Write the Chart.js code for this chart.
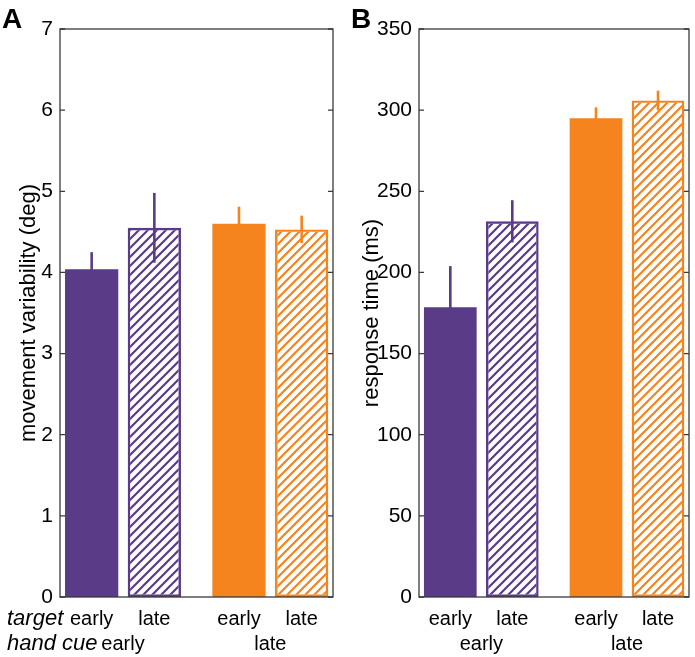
<!DOCTYPE html>
<html>
<head>
<meta charset="utf-8">
<script src="https://cdn.jsdelivr.net/npm/chart.js@4.4.1/dist/chart.umd.min.js"></script>
<style>
  body { margin: 0; background: #fff; width: 695px; height: 657px; position: relative; overflow: hidden; }
  .panel { position: absolute; top: 0; height: 657px; }
  #pa { left: 0; width: 347px; }
  #pb { left: 347px; width: 348px; }
  .tag { position: absolute; top: 5px; font: bold 28px/28px "Liberation Sans", Arial, sans-serif; color: #000; }
</style>
</head>
<body>
<div class="panel" id="pa"><canvas id="ca"></canvas></div>
<div class="panel" id="pb"><canvas id="cb"></canvas></div>
<div class="tag" style="left:2px">A</div>
<div class="tag" style="left:351px">B</div>
<script>
// data
const targetLabels = ['early', 'late', 'early', 'late'];
const handCueLabels = ['early', 'late'];
const barPositions = [1, 2, 3.35, 4.35];
const variability = [4.04, 4.55, 4.60, 4.53];
const variabilityErr = [0.21, 0.43, 0.21, 0.17];
const responseTime = [178.5, 231.5, 295, 306];
const responseTimeErr = [25.4, 13, 6.7, 6];
const variabilityTicks = [0, 1, 2, 3, 4, 5, 6, 7];
const responseTicks = [0, 50, 100, 150, 200, 250, 300, 350];

const FONT = '"Liberation Sans", Arial, Helvetica, sans-serif';
const PURPLE = '#5a3b88';
const ORANGE = '#f5841f';
Chart.defaults.color = '#000';
Chart.defaults.font.family = FONT;

function hatch(color) {
  const s = 9, c = document.createElement('canvas');
  c.width = s; c.height = s;
  const g = c.getContext('2d');
  g.strokeStyle = color; g.lineWidth = 2.2;
  g.beginPath();
  g.moveTo(-2, s + 2); g.lineTo(s + 2, -2);
  g.moveTo(-2, 2); g.lineTo(2, -2);
  g.moveTo(s - 2, s + 2); g.lineTo(s + 2, s - 2);
  g.stroke();
  return g.createPattern(c, 'repeat');
}

// error bars, box frame with inward ticks, second label row
const decor = {
  id: 'decor',
  afterDatasetsDraw(chart, args, opts) {
    const { ctx, chartArea: a, scales: { x, y } } = chart;
    const meta = chart.getDatasetMeta(0);
    const vals = chart.data.datasets[0].data;
    ctx.save();
    ctx.lineWidth = 2.6;
    meta.data.forEach((el, i) => {
      ctx.strokeStyle = opts.colors[i];
      ctx.beginPath();
      ctx.moveTo(el.x, y.getPixelForValue(vals[i].y - opts.errors[i]));
      ctx.lineTo(el.x, y.getPixelForValue(vals[i].y + opts.errors[i]));
      ctx.stroke();
    });
    ctx.strokeStyle = '#3a3a3a';
    ctx.lineWidth = 1.3;
    ctx.strokeRect(a.left, a.top, a.right - a.left, a.bottom - a.top);
    ctx.beginPath();
    y.ticks.forEach(t => {
      const py = y.getPixelForValue(t.value);
      ctx.moveTo(a.left, py); ctx.lineTo(a.left + 5, py);
      ctx.moveTo(a.right, py); ctx.lineTo(a.right - 5, py);
    });
    ctx.stroke();
    ctx.fillStyle = '#000';
    ctx.font = '20px ' + FONT;
    ctx.textBaseline = 'middle';
    ctx.textAlign = 'center';
    const row1 = a.bottom + 10 + 12;
    handCueLabels.forEach((lab, g) => {
      const cx = (x.getPixelForValue(barPositions[2 * g]) + x.getPixelForValue(barPositions[2 * g + 1])) / 2;
      ctx.fillText(lab, cx, row1 + 25);
    });
    if (opts.rowTitles) {
      ctx.font = 'italic 22px ' + FONT;
      ctx.textAlign = 'left';
      opts.rowTitles.forEach((t, i) => ctx.fillText(t, 7, row1 + 25 * i));
    }
    ctx.restore();
  }
};

function panel(canvas, values, errors, yTicks, title, yWidth, rightPad, titlePad, rowTitles) {
  const colors = [PURPLE, PURPLE, ORANGE, ORANGE];
  return new Chart(canvas, {
    type: 'bar',
    data: {
      datasets: [{
        data: barPositions.map((p, i) => ({ x: p, y: values[i] })),
        backgroundColor: [PURPLE, hatch(PURPLE), ORANGE, hatch(ORANGE)],
        borderColor: colors,
        borderWidth: [0, 2.4, 0, 2.4],
        borderSkipped: false,
        barPercentage: 0.85,
        categoryPercentage: 1
      }]
    },
    options: {
      responsive: true, maintainAspectRatio: false, animation: false,
      layout: { padding: { top: 29, right: rightPad, left: 0, bottom: 0 } },
      plugins: {
        legend: { display: false }, tooltip: { enabled: false },
        decor: { errors, colors, rowTitles }
      },
      scales: {
        x: {
          type: 'linear', min: 0.495, max: 4.85, offset: false,
          grid: { display: false, drawTicks: false, offset: false }, border: { display: false },
          afterBuildTicks: s => { s.ticks = barPositions.map(v => ({ value: v })); },
          afterFit: s => { s.height = 60; },
          ticks: {
            autoSkip: false, maxRotation: 0, minRotation: 0, padding: 10,
            font: { size: 20 },
            callback: (v, i) => targetLabels[i]
          }
        },
        y: {
          min: yTicks[0], max: yTicks[yTicks.length - 1],
          grid: { display: false, drawTicks: false }, border: { display: false },
          afterBuildTicks: s => { s.ticks = yTicks.map(v => ({ value: v })); },
          afterFit: s => { s.width = yWidth; },
          ticks: { padding: 7, font: { size: 21 } },
          title: { display: true, text: title, font: { size: 22 }, padding: { top: titlePad, bottom: 0 } }
        }
      }
    },
    plugins: [decor]
  });
}

panel(document.getElementById('ca'), variability, variabilityErr, variabilityTicks,
  'movement variability (deg)', 60, 14, 16, ['target', 'hand cue']);
panel(document.getElementById('cb'), responseTime, responseTimeErr, responseTicks,
  'response time (ms)', 72, 6, 12, null);
</script>
</body>
</html>
